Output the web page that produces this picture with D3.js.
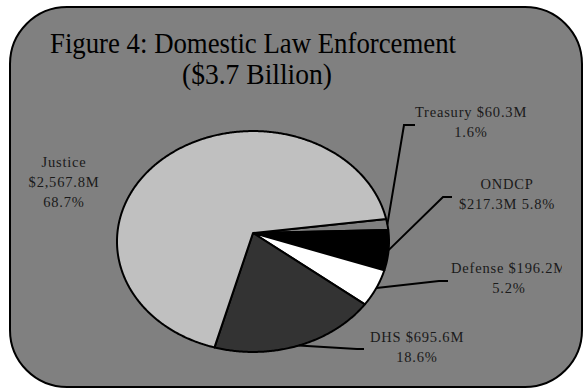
<!DOCTYPE html>
<html><head><meta charset="utf-8">
<script src="https://cdn.jsdelivr.net/npm/d3@7"></script>
<style>html,body{margin:0;padding:0;background:#fff;} svg{display:block;}</style>
</head><body>
<svg id="c" width="583" height="390"></svg>
<script>
// ---- data ----
const categories = ["Treasury", "ONDCP", "Defense", "DHS", "Justice"];
const values = [60.3, 217.3, 196.2, 695.6, 2567.8];
const percents = ["1.6%", "5.8%", "5.2%", "18.6%", "68.7%"];
const titleLines = ["Figure 4: Domestic Law Enforcement", "($3.7 Billion)"];

// ---- styles / layout ----
const colors = ["#808080", "#000000", "#ffffff", "#333333", "#c0c0c0"];
function fmt(v){ return d3.format("$,.1f")(v) + "M"; }
const labelLines = [
  [categories[0] + " " + fmt(values[0]), percents[0]],
  [categories[1], fmt(values[1]) + " " + percents[1]],
  [categories[2] + " " + fmt(values[2]), percents[2]],
  [categories[3] + " " + fmt(values[3]), percents[3]],
  [categories[4], fmt(values[4]), percents[4]]
];
const labelLayout = [
  {x: 471, y: 117, elbow: [404, 125], end: [415, 125]},
  {x: 507, y: 189, elbow: [443, 197], end: [452, 197]},
  {x: 509, y: 273, elbow: [439, 281], end: [448, 281]},
  {x: 417, y: 342, elbow: [357, 349], end: [364, 349]},
  {x: 64,  y: 167, elbow: null, end: null}
];

const svg = d3.select("#c");
svg.append("rect").attr("x", 10).attr("y", 7).attr("width", 572).attr("height", 380)
  .attr("rx", 57).attr("ry", 57).attr("fill", "#808080").attr("stroke", "#000").attr("stroke-width", 2);

// titles
const tFont = "'Liberation Serif', 'DejaVu Serif', serif";
svg.append("text").attr("text-anchor", "middle").attr("font-family", tFont).attr("font-size", 29).attr("fill", "#000")
  .attr("x", 253).attr("y", 53).text(titleLines[0]).attr("textLength", 406).attr("lengthAdjust", "spacingAndGlyphs");
svg.append("text").attr("text-anchor", "middle").attr("font-family", tFont).attr("font-size", 29).attr("fill", "#000")
  .attr("x", 257).attr("y", 84).text(titleLines[1]).attr("textLength", 150).attr("lengthAdjust", "spacingAndGlyphs");

// perspective pie projection
const cx = 253, cy = 233, A = 135.6, B = 109.8, k = 0.077;
function proj(a){
  const u = Math.sin(a), v = -Math.cos(a), d = 1 - k * v;
  return [cx + A * u / d, cy + B * v / d];
}
const deg = Math.PI / 180;
const start = 82.6 * deg;
const pie = d3.pie().sort(null).value(d => d).startAngle(start).endAngle(start + 2 * Math.PI);
const arcs = pie(values);
const line = d3.line();

arcs.forEach((a, i) => {
  const n = Math.max(2, Math.ceil((a.endAngle - a.startAngle) / (0.5 * deg)));
  const pts = [[cx, cy]];
  for (let j = 0; j <= n; j++) pts.push(proj(a.startAngle + (a.endAngle - a.startAngle) * j / n));
  svg.append("path").attr("d", line(pts) + "Z").attr("fill", colors[i])
    .attr("stroke", "#000").attr("stroke-width", 2).attr("stroke-linejoin", "round");
});

// leader lines & labels
svg.append("clipPath").attr("id", "plotclip").append("rect").attr("x", 0).attr("y", 0).attr("width", 562).attr("height", 390);
const lg = svg.append("g").attr("clip-path", "url(#plotclip)");
arcs.forEach((a, i) => {
  const L = labelLayout[i];
  if (L.elbow) {
    const m = proj((a.startAngle + a.endAngle) / 2);
    lg.append("path").attr("d", line([m, L.elbow, L.end])).attr("fill", "none")
      .attr("stroke", "#000").attr("stroke-width", 2);
  }
  const t = lg.append("text").attr("text-anchor", "middle").attr("font-family", "'Liberation Serif', serif")
    .attr("font-size", 14.5).attr("letter-spacing", 0.8).attr("fill", "#1a1a1a");
  labelLines[i].forEach((s, j) => t.append("tspan").attr("x", L.x).attr("y", L.y + j * 20).text(s));
});
</script>
</body></html>
